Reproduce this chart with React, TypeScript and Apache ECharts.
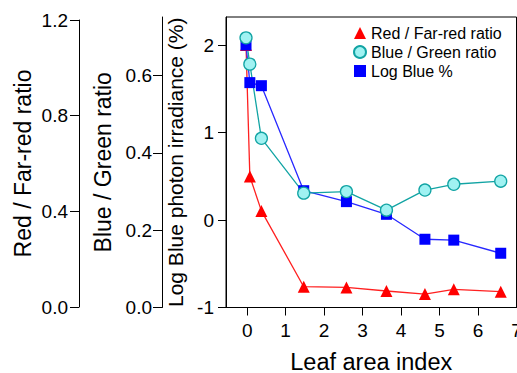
import React, { useEffect, useRef } from "react";
import * as echarts from "echarts";

const leafAreaIndex = [-0.03, 0.07, 0.37, 1.47, 2.58, 3.62, 4.62, 5.37, 6.59];
const redFarRed = [1.098, 0.548, 0.404, 0.087, 0.084, 0.069, 0.056, 0.076, 0.066];
const blueGreen = [0.698, 0.63, 0.438, 0.296, 0.3, 0.252, 0.304, 0.319, 0.327];
const logBlue = [2.0, 1.57, 1.535, 0.335, 0.21, 0.065, -0.22, -0.23, -0.38];

const xTicks = [0, 1, 2, 3, 4, 5, 6, 7];
const xTickMarks = [0, 1, 2, 3, 4, 5, 6];
const logTicks = [-1, 0, 1, 2];
const bgTicks = [0, 0.2, 0.4, 0.6];
const rfrTicks = [0, 0.4, 0.8, 1.2];

const FONT = "'Liberation Sans', Arial, Helvetica, sans-serif";

const pairs = (ys: number[]) => leafAreaIndex.map((x, i) => [x, ys[i]]);

export default function App() {
  const ref = useRef<HTMLDivElement>(null);
  useEffect(() => {
    if (!ref.current) return;
    const chart = echarts.init(ref.current, undefined, { renderer: "svg" });
    const axisLine = { show: true, onZero: false, lineStyle: { color: "#000", width: 1 } };
    const label = (vals: number[], fmt: (v: number) => string, margin: number) => ({
      customValues: vals,
      formatter: (v: number) => fmt(v),
      color: "#000",
      fontSize: 19,
      fontFamily: FONT,
      margin,
      showMaxLabel: true,
      showMinLabel: true,
    });
    const tick = (vals: number[], len: number) => ({
      show: true,
      customValues: vals,
      length: len,
      lineStyle: { color: "#000", width: 1 },
    });
    chart.setOption({
      animation: false,
      backgroundColor: "#fff",
      textStyle: { fontFamily: FONT },
      grid: [
        {
          left: 226, right: 0.5, top: 17, bottom: 65.5, show: true, borderColor: "#000", borderWidth: 1,
          containLabel: false, outerBoundsMode: "none",
        },
        { left: 79, top: 20, bottom: 66, width: 10, containLabel: false, outerBoundsMode: "none" },
      ],
      xAxis: [
        {
          gridIndex: 0,
          type: "value",
          min: -0.55,
          max: 7,
          axisLine,
          axisTick: tick(xTickMarks, 8),
          axisLabel: label(xTicks, (v) => String(v), 13),
          splitLine: { show: false },
          name: "Leaf area index",
          nameLocation: "middle",
          nameGap: 42,
          nameTextStyle: { fontSize: 23.5, color: "#000", fontFamily: FONT },
        },
        { gridIndex: 1, type: "value", min: 0, max: 1, show: false },
      ],
      yAxis: [
        {
          gridIndex: 0,
          type: "value",
          position: "left",
          min: -1,
          max: 2.32,
          axisLine,
          axisTick: tick(logTicks, 8),
          axisLabel: label(logTicks, (v) => String(v), 12),
          splitLine: { show: false },
          name: "Log Blue photon irradiance (%)",
          nameLocation: "middle",
          nameGap: 29,
          nameTextStyle: { fontSize: 21, color: "#000", fontFamily: FONT },
        },
        {
          gridIndex: 0,
          type: "value",
          position: "left",
          offset: 64,
          min: 0,
          max: 0.752,
          axisLine,
          axisTick: tick(bgTicks, 9),
          axisLabel: label(bgTicks, (v) => v.toFixed(1), 10),
          splitLine: { show: false },
          name: "Blue / Green ratio",
          nameLocation: "middle",
          nameGap: 44,
          nameTextStyle: { fontSize: 23, color: "#000", fontFamily: FONT },
        },
        { gridIndex: 0, type: "value", min: 0, max: 1.215, show: false },
        {
          gridIndex: 1,
          type: "value",
          position: "left",
          min: 0,
          max: 1.2,
          axisLine,
          axisTick: tick(rfrTicks, 9),
          axisLabel: label(rfrTicks, (v) => v.toFixed(1), 11),
          splitLine: { show: false },
          name: "Red / Far-red ratio",
          nameLocation: "middle",
          nameGap: 45,
          nameTextStyle: { fontSize: 23, color: "#000", fontFamily: FONT },
        },
      ],
      legend: {
        left: 353,
        top: 25,
        orient: "vertical",
        itemWidth: 12,
        itemHeight: 12,
        itemGap: 3,
        padding: 0,
        textStyle: { fontSize: 16, color: "#000", fontFamily: FONT },
        data: [
          { name: "Red / Far-red ratio", icon: "triangle" },
          { name: "Blue / Green ratio", icon: "circle" },
          { name: "Log Blue %", icon: "rect" },
        ],
      },
      series: [
        {
          name: "Red / Far-red ratio",
          type: "line",
          xAxisIndex: 0,
          yAxisIndex: 2,
          data: pairs(redFarRed),
          symbol: "triangle",
          symbolSize: 12,
          itemStyle: { color: "#ff0000" },
          lineStyle: { color: "#ff2020", width: 1.3 },
        },
        {
          name: "Log Blue %",
          type: "line",
          xAxisIndex: 0,
          yAxisIndex: 0,
          data: pairs(logBlue),
          symbol: "rect",
          symbolSize: 11,
          itemStyle: { color: "#0000ff" },
          lineStyle: { color: "#2828ff", width: 1.3 },
        },
        {
          name: "Blue / Green ratio",
          type: "line",
          xAxisIndex: 0,
          yAxisIndex: 1,
          data: pairs(blueGreen),
          symbol: "circle",
          symbolSize: 12,
          itemStyle: { color: "#a0f2f2", borderColor: "#12a4a4", borderWidth: 1.3 },
          lineStyle: { color: "#12a4a4", width: 1.3 },
        },
      ],
    });
    return () => chart.dispose();
  }, []);
  return (
    <div
      ref={ref}
      style={{ position: "fixed", left: 0, top: 0, width: 517, height: 373, background: "#fff" }}
    />
  );
}
